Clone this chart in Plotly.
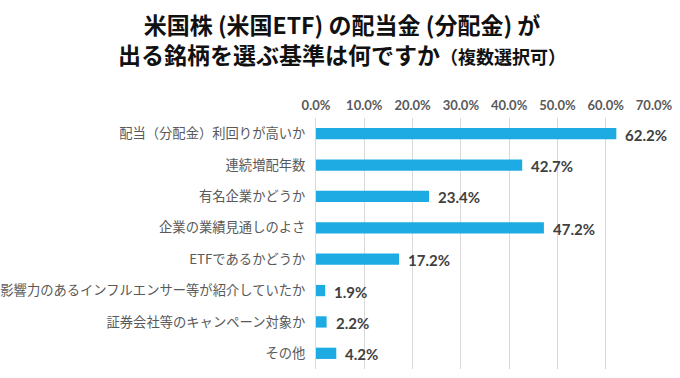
import plotly.graph_objects as go

categories = [
    "配当（分配金）利回りが高いか",
    "連続増配年数",
    "有名企業かどうか",
    "企業の業績見通しのよさ",
    "ETFであるかどうか",
    "影響力のあるインフルエンサー等が紹介していたか",
    "証券会社等のキャンペーン対象か",
    "その他",
]
values = [62.2, 42.7, 23.4, 47.2, 17.2, 1.9, 2.2, 4.2]
tick_vals = [0, 10, 20, 30, 40, 50, 60, 70]
tick_text = ["0.0%", "10.0%", "20.0%", "30.0%", "40.0%", "50.0%", "60.0%", "70.0%"]
title_line1 = "米国株 (米国ETF) の配当金 (分配金) が"
title_line2 = "出る銘柄を選ぶ基準は何ですか"
title_note = "（複数選択可）"

BAR = "#1eabe3"
JP = "Noto Sans CJK JP"

fig = go.Figure(go.Bar(
    x=values, y=categories, orientation="h",
    marker=dict(color=BAR, line=dict(width=0)),
    hoverinfo="skip",
))

for c, v in zip(categories, values):
    fig.add_annotation(
        x=v, y=c, xref="x", yref="y", text=f"{v:.1f}%", showarrow=False,
        xanchor="left", xshift=7, yshift=-1,
        font=dict(family="Lato", size=15, color="#404040", weight="bold"),
    )

fig.add_annotation(
    x=0.5, xref="paper", xanchor="center", xshift=-143,
    y=1.314, yref="paper", yanchor="middle", showarrow=False,
    align="center",
    text=title_line1 + "<br>" + title_line2
    + f"<span style='font-size:18px'>{title_note}</span>",
    font=dict(family=JP, size=23, color="#111111", weight="bold"),
)

fig.update_layout(
    width=680, height=378,
    margin=dict(l=316, r=26, t=118, b=9),
    paper_bgcolor="white", plot_bgcolor="white",
    bargap=0.64,
    showlegend=False,
    xaxis=dict(
        range=[0, 70], side="top", tickvals=tick_vals, ticktext=tick_text,
        showgrid=True, gridcolor="#d9d9d9", gridwidth=1,
        zeroline=False, showline=False, ticks="",
        ticklabelstandoff=4,
        tickfont=dict(family="Lato", size=13, color="#595959", weight="bold"),
        fixedrange=True, automargin=False,
    ),
    yaxis=dict(
        autorange="reversed", showgrid=False, zeroline=False,
        showline=True, linecolor="#d9d9d9", linewidth=1, ticks="",
        ticklabelstandoff=7,
        tickfont=dict(family=JP, size=13.3, color="#595959"),
        fixedrange=True, automargin=False,
    ),
)

fig.write_html("out.html", config={"displayModeBar": False})

with open("out.html", "r", encoding="utf-8") as f:
    html = f.read()
html = html.replace("<body>", '<body style="margin:0;padding:0;overflow:hidden">', 1)
with open("out.html", "w", encoding="utf-8") as f:
    f.write(html)
